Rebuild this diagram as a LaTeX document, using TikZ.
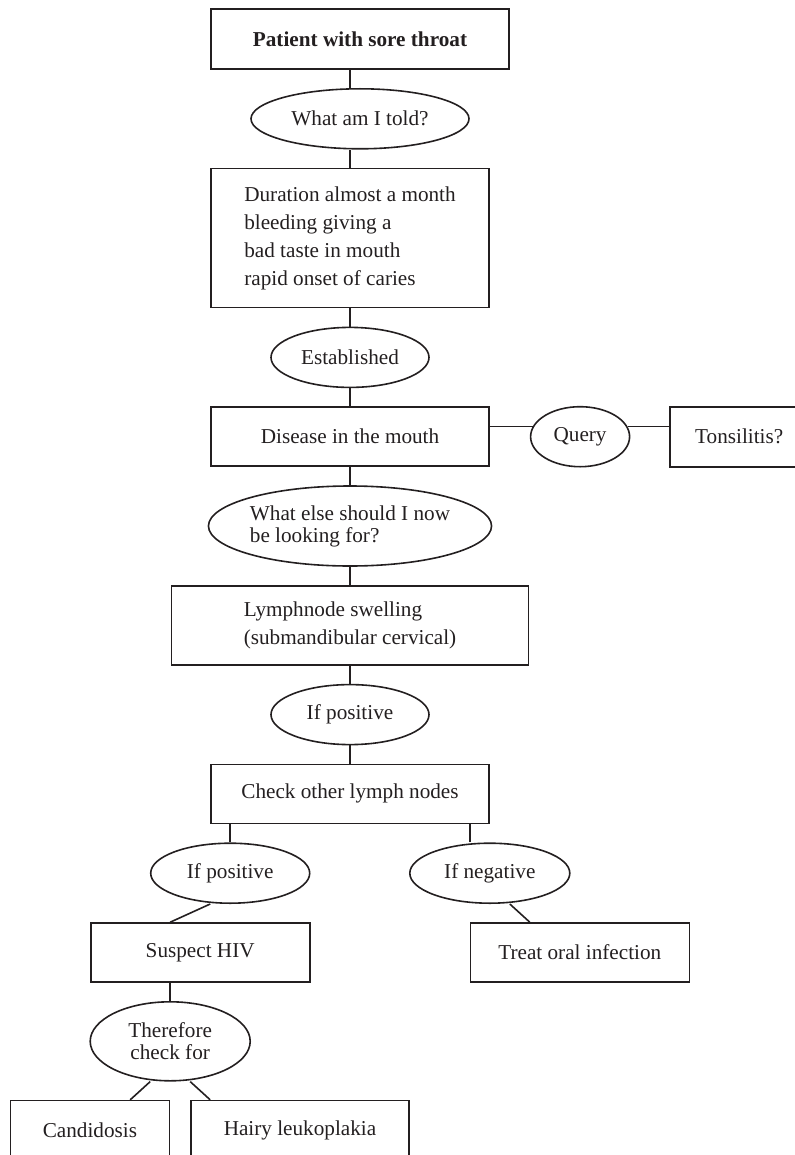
\documentclass[tikz,border=0pt]{standalone}
\usepackage{fontspec}
\setmainfont{Liberation Serif}
\usepackage{tikz}
\usetikzlibrary{
  chains,
  positioning,
  shapes.geometric,
}
\definecolor{ink}{RGB}{35,31,32}

\begin{document}
\begin{tikzpicture}[
  x=0.5pt, y=-0.5pt,
  line width=0.8pt,
  color=ink,
  font=\fontsize{10.6}{14}\selectfont,
  box/.style={
     rectangle,
     draw,
     minimum height=29.5pt,
     align=center,
  },
  oval/.style={
     ellipse,
     draw,
     inner sep=0pt,
     minimum height=30pt,
     align=center,
     font=\fontsize{10.6}{11}\selectfont,
  },
  node distance=9.1pt,
  start chain=going below
]
   \useasboundingbox (0,0) rectangle (795,1155);
   % main column
   \node[box,on chain,minimum width=149pt,minimum height=30pt] (top) at (360,39)
      {\textbf{Patient with sore throat}};
   \node[oval,on chain,minimum width=109pt] (told) {What am I told?};
   \node[box,on chain,xshift=-5pt,minimum width=139pt,minimum height=69.5pt,align=left] (dur)
      {Duration almost a month\\bleeding giving a\\bad taste in mouth\\rapid onset of caries};
   \node[oval,on chain,minimum width=79pt] (est) {Established};
   \node[box,on chain,minimum width=139pt] (mouth) {Disease in the mouth};
   \node[oval,on chain,minimum width=139.5pt,minimum height=40pt,align=left] (else)
      {What else should I now\\be looking for?};
   \node[box,on chain,minimum width=178.5pt,minimum height=39.5pt,align=left] (lymph)
      {Lymphnode swelling\\(submandibular cervical)};
   \node[oval,on chain,minimum width=79pt] (pos1) {If positive};
   \node[box,on chain,minimum width=139pt] (check) {Check other lymph nodes};
   % side branch
   \node[oval,minimum width=49.5pt,right=20pt of mouth] (query) {Query};
   \node[box,minimum width=69pt,minimum height=30pt,right=19.5pt of query] (tons) {Tonsilitis?};
   % two outcomes
   \node[oval,minimum width=79.5pt,below=of check.south west,xshift=10pt] (pos2) {If positive};
   \node[oval,minimum width=80pt,below=of check.south east] (neg) {If negative};
   \node[box,minimum width=109.5pt,below=of pos2,xshift=-15pt] (hiv) {Suspect HIV};
   \node[box,minimum width=109.5pt,below=of neg,xshift=45pt] (treat) {Treat oral infection};
   \node[oval,minimum width=80pt,minimum height=39.5pt,below=of hiv,xshift=-15pt] (therefore)
      {Therefore\\check for};
   \node[box,minimum width=79.5pt,minimum height=30pt,below left=9.1pt and 0pt of therefore.south] (cand)
      {Candidosis};
   \node[box,minimum width=109pt,minimum height=30pt,below right=9.1pt and 10pt of therefore.south] (hairy)
      {Hairy leukoplakia};

   \draw (top.south -| dur) -- (told.north -| dur);
   \draw (told.south -| dur) -- (dur);
   \foreach \a/\b in {dur/est, est/mouth, mouth/else, else/lymph, lymph/pos1, pos1/check}
      \draw (\a) -- (\b);
   \draw (mouth.east |- query.168) -- (query.168);
   \draw (query.12) -- (tons.west |- query.12);
   \draw (pos2.north) -- (pos2.north |- check.south);
   \draw ([xshift=-10pt]neg.north) -- ([xshift=-10pt]neg.north |- check.south);
   \draw ([xshift=-10pt]pos2.south) -- (therefore |- hiv.north);
   \draw ([xshift=10pt]neg.south) -- ([xshift=-25pt]treat.north);
   \draw (hiv.south -| therefore) -- (therefore);
   \draw ([xshift=-10pt]therefore.south) -- ([xshift=-20pt]cand.north east);
   \draw ([xshift=10pt]therefore.south) -- ([xshift=10pt]hairy.north west);
\end{tikzpicture}
\end{document}
